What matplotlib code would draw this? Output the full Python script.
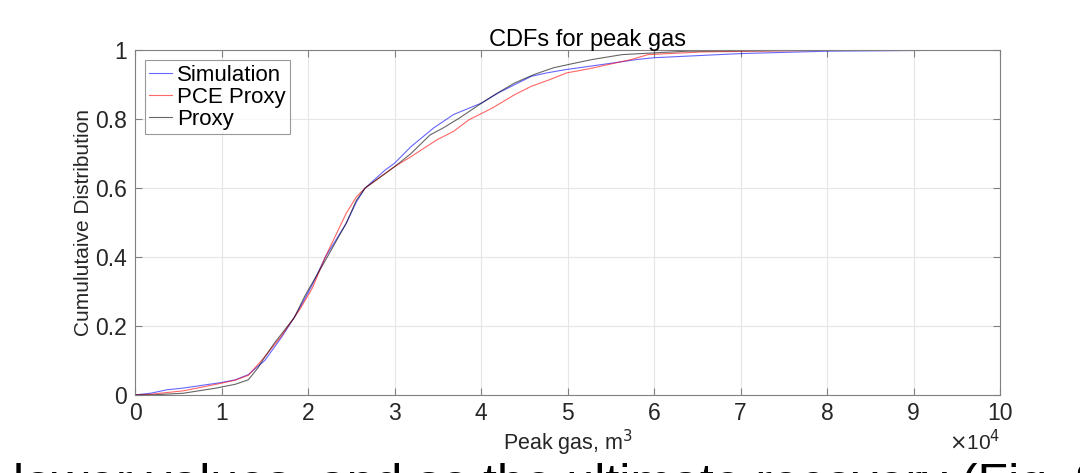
import matplotlib
matplotlib.use('Agg')
import matplotlib.pyplot as plt

# values (x in units of 1e4 m^3)
sim_x = [0, 0.18, 0.37, 0.56, 0.86, 1.0, 1.16, 1.31, 1.5, 1.69, 1.84, 1.95, 2.05, 2.2, 2.44, 2.56, 2.66,
         2.89, 3.0, 3.19, 3.45, 3.68, 4.01, 4.2, 4.39, 4.58, 4.76, 4.99, 5.25, 5.81, 6.0, 7.0, 8.0, 9.58, 9.7]
sim_y = [0, 0.005, 0.015, 0.02, 0.031, 0.036, 0.044, 0.059, 0.10, 0.166, 0.224, 0.273, 0.32, 0.40, 0.497, 0.56, 0.60,
         0.652, 0.672, 0.72, 0.774, 0.813, 0.847, 0.876, 0.90, 0.924, 0.934, 0.944, 0.953, 0.973, 0.978, 0.99,
         0.997, 1.0, 1.0]

pce_x = [0, 0.18, 0.56, 0.94, 1.16, 1.31, 1.48, 1.69, 1.91, 2.05, 2.2, 2.44, 2.56, 2.66,
         3.0, 3.19, 3.49, 3.68, 3.86, 4.13, 4.39, 4.58, 4.8, 4.99, 5.25, 5.74, 5.93, 6.57, 7.89, 9.7]
pce_y = [0, 0.002, 0.012, 0.031, 0.043, 0.057, 0.105, 0.17, 0.25, 0.31, 0.40, 0.526, 0.575, 0.60,
         0.662, 0.691, 0.74, 0.764, 0.798, 0.832, 0.871, 0.895, 0.915, 0.934, 0.946, 0.973, 0.987, 0.995,
         0.999, 1.0]

proxy_x = [0, 0.18, 0.56, 0.94, 1.16, 1.31, 1.42, 1.48, 1.61, 1.84, 1.97, 2.2, 2.44, 2.56, 2.66,
           3.0, 3.19, 3.41, 3.56, 3.75, 4.01, 4.16, 4.39, 4.61, 4.84, 5.06, 5.29, 5.63, 6.0, 6.39, 7.5, 9.0]
proxy_y = [0, 0.0, 0.005, 0.02, 0.031, 0.044, 0.078, 0.102, 0.15, 0.224, 0.29, 0.39, 0.497, 0.565, 0.60,
           0.662, 0.70, 0.754, 0.774, 0.803, 0.847, 0.871, 0.905, 0.929, 0.949, 0.961, 0.973, 0.987, 0.992,
           0.997, 0.999, 1.0]

plt.rcParams['font.family'] = ['Liberation Sans', 'DejaVu Sans']

fig = plt.figure(figsize=(10.8, 4.73), dpi=100)
ax = fig.add_axes([0.125, 0.165, 0.801, 0.729])

ax.plot(sim_x, sim_y, color='#0000ff', lw=0.8, alpha=0.6, label='Simulation')
ax.plot(pce_x, pce_y, color='#ff0000', lw=0.8, alpha=0.6, label='PCE Proxy')
ax.plot(proxy_x, proxy_y, color='#000000', lw=0.8, alpha=0.6, label='Proxy')

ax.set_xlim(0, 10)
ax.set_ylim(0, 1)
ax.set_xticks(range(0, 11))
ax.set_yticks([0, 0.2, 0.4, 0.6, 0.8, 1])
ax.set_yticklabels(['0', '0.2', '0.4', '0.6', '0.8', '1'])
ax.grid(True, color='#e6e6e6', lw=0.8)
ax.set_axisbelow(True)
ax.tick_params(direction='in', length=5, width=0.8, colors='#808080', labelcolor='#262626',
               labelsize=16.5, top=True, right=True)
ax.tick_params(axis='y', pad=6)
ax.tick_params(axis='x', pad=5)
for s in ax.spines.values():
    s.set_color('#808080')
    s.set_linewidth(0.8)

ax.set_title('CDFs for peak gas', fontsize=17, color='#000000', pad=3, x=0.523)
ax.set_xlabel('Peak gas, m$^3$', fontsize=15.5, color='#262626', labelpad=2)
ax.set_ylabel('Cumulutaive Distribution', fontsize=15, color='#262626', labelpad=1)
ax.text(1.0, -0.135, r'$\times$10$^4$', transform=ax.transAxes, ha='right', va='center',
        fontsize=15, color='#262626')

leg = ax.legend(loc='upper left', fontsize=16, frameon=True, fancybox=False,
                handlelength=1.0, handletextpad=0.25, borderpad=0.2, labelspacing=0.05,
                borderaxespad=0.45)
leg.get_frame().set_edgecolor('#808080')
leg.get_frame().set_linewidth(0.8)

# partial document text cut off at the bottom of the crop
fig.text(0.012, -0.056, 'lower values, and so the ultimate recovery (Fig. 8)',
         fontsize=36, va='baseline', ha='left', color='black')

fig.savefig('out.png', dpi=100)
